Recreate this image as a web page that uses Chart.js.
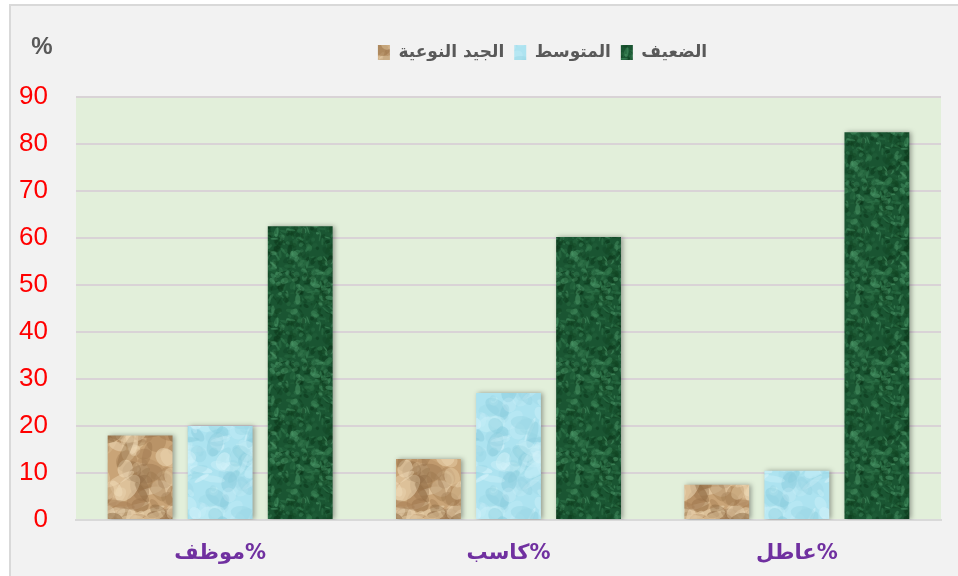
<!DOCTYPE html>
<html lang="ar">
<head>
    <meta charset="UTF-8">
    <title>Bar chart</title>
    <script src="https://cdn.jsdelivr.net/npm/chart.js"></script>
    <style>
        body { margin: 0; background: #ffffff; }
        #chart { display: block; }
    </style>
</head>
<body>
    <canvas id="chart" width="958" height="576"></canvas>
<script>
    // data
    var categories = ['موظف%', 'كاسب%', 'عاطل%'];
    var seriesNames = ['الجيد النوعية', 'المتوسط', 'الضعيف'];
    var goodValues = [18, 13, 7.5];
    var mediumValues = [20, 27, 10.5];
    var weakValues = [62.5, 60.2, 82.5];
    var yMin = 0, yMax = 90, yStep = 10;

    // small seeded generator, only used for the bar textures
    function seeded(seed) {
        var s = seed;
        return function () {
            s = (s * 16807) % 2147483647;
            return (s - 1) / 2147483646;
        };
    }

    function makeTexture(base, shades, seed, count, minR, maxR, w, h) {
        var c = document.createElement('canvas');
        c.width = w; c.height = h;
        var g = c.getContext('2d');
        var rnd = seeded(seed);
        g.fillStyle = base;
        g.fillRect(0, 0, w, h);
        for (var i = 0; i < count; i++) {
            var x = rnd() * w, y = rnd() * h;
            var rx = minR + rnd() * (maxR - minR), ry = minR * 0.6 + rnd() * (maxR - minR) * 0.6;
            var rot = rnd() * Math.PI;
            g.globalAlpha = 0.2 + rnd() * 0.35;
            g.fillStyle = shades[Math.floor(rnd() * shades.length)];
            for (var dx = -w; dx <= w; dx += w) {
                for (var dy = -h; dy <= h; dy += h) {
                    g.beginPath();
                    g.ellipse(x + dx, y + dy, rx, ry, rot, 0, Math.PI * 2);
                    g.fill();
                }
            }
        }
        g.globalAlpha = 1;
        return document.getElementById('chart').getContext('2d').createPattern(c, 'repeat');
    }

    var tanFill = makeTexture('#c9a477', ['#8a6640', '#e9d2ab', '#a47c52', '#f0dcba'], 7, 70, 4, 18, 70, 90);
    var blueFill = makeTexture('#ade3f0', ['#d8f4fb', '#8accdc', '#c6eef7', '#9ad6e4'], 13, 80, 3, 14, 70, 90);
    var greenFill = makeTexture('#1a5532', ['#0a3318', '#3c8658', '#10401f', '#2c6f45', '#4f9a6b'], 29, 420, 1, 5, 70, 90);

    var framePlugin = {
        id: 'frame',
        beforeDraw: function (chart) {
            var ctx = chart.ctx, w = chart.width, h = chart.height, a = chart.chartArea;
            ctx.save();
            ctx.fillStyle = '#ffffff';
            ctx.fillRect(0, 0, w, h);
            ctx.fillStyle = '#f2f2f2';
            ctx.fillRect(10, 5, w, h);
            ctx.strokeStyle = '#d9d9d9';
            ctx.lineWidth = 2;
            ctx.beginPath();
            ctx.moveTo(10, h);
            ctx.lineTo(10, 5);
            ctx.lineTo(w, 5);
            ctx.stroke();
            ctx.fillStyle = '#e2efda';
            ctx.fillRect(a.left, a.top, a.right - a.left, a.bottom - a.top);
            ctx.fillStyle = '#595959';
            ctx.font = 'bold 24px "Liberation Sans"';
            ctx.textAlign = 'center';
            ctx.textBaseline = 'middle';
            ctx.fillText('%', 42, 47);
            ctx.restore();
        },
        afterLayout: function (chart) {
            // legend sits right of centre in the original
            chart.legend.left += 72;
            chart.legend.right += 72;
        },
        beforeDatasetsDraw: function (chart) {
            var ctx = chart.ctx;
            ctx.save();
            ctx.shadowColor = 'rgba(0,0,0,0.35)';
            ctx.shadowBlur = 5;
            ctx.shadowOffsetX = 2;
        },
        afterDatasetsDraw: function (chart) {
            chart.ctx.restore();
        }
    };

    new Chart(document.getElementById('chart'), {
        type: 'bar',
        data: {
            labels: categories,
            datasets: [
                { label: seriesNames[0], data: goodValues, backgroundColor: tanFill },
                { label: seriesNames[1], data: mediumValues, backgroundColor: blueFill },
                { label: seriesNames[2], data: weakValues, backgroundColor: greenFill }
            ]
        },
        options: {
            responsive: false,
            animation: false,
            categoryPercentage: 0.833,
            barPercentage: 0.81,
            layout: { padding: { top: 34, left: 0, right: 17, bottom: 0 } },
            plugins: {
                legend: {
                    position: 'top',
                    labels: {
                        color: '#595959',
                        font: { family: '"DejaVu Sans"', size: 17, weight: 'bold' },
                        boxWidth: 12,
                        boxHeight: 15,
                        padding: 10
                    }
                },
                title: {
                    display: true,
                    text: '',
                    weight: 900,
                    font: { size: 10 },
                    padding: { top: 0, bottom: 14 }
                },
                tooltip: { enabled: false }
            },
            scales: {
                x: {
                    grid: { display: false, drawTicks: false },
                    border: { color: '#d9d9d9', width: 2 },
                    ticks: {
                        color: '#7030a0',
                        padding: 21,
                        font: { family: '"DejaVu Sans"', size: 21, weight: 'bold' }
                    },
                    afterFit: function (scale) { scale.height = 56; }
                },
                y: {
                    min: yMin,
                    max: yMax,
                    grid: { color: '#d9d3d6', lineWidth: 2, drawTicks: false },
                    border: { display: false },
                    ticks: {
                        stepSize: yStep,
                        color: '#ff0000',
                        padding: 28,
                        font: { family: '"Liberation Sans"', size: 26 }
                    },
                    afterFit: function (scale) { scale.width = 76; }
                }
            }
        },
        plugins: [framePlugin]
    });
</script>
</body>
</html>
